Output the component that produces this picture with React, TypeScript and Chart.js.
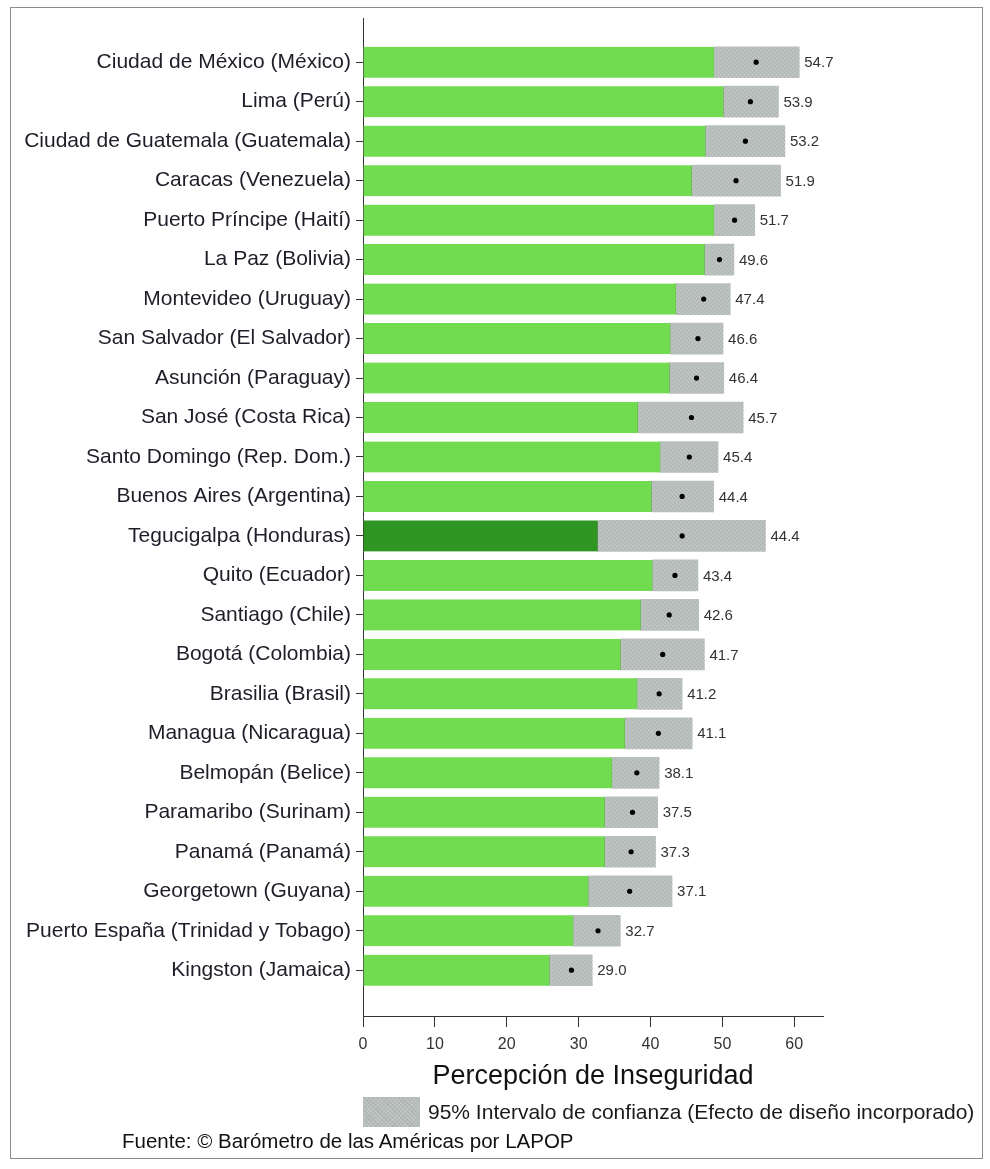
import React, { useEffect, useRef } from "react";
import { Chart, registerables } from "chart.js";

Chart.register(...registerables);

const FONT = '"Liberation Sans", Arial, Helvetica, sans-serif';

const cities = [
  "Ciudad de México (México)",
  "Lima (Perú)",
  "Ciudad de Guatemala (Guatemala)",
  "Caracas (Venezuela)",
  "Puerto Príncipe (Haití)",
  "La Paz (Bolivia)",
  "Montevideo (Uruguay)",
  "San Salvador (El Salvador)",
  "Asunción (Paraguay)",
  "San José (Costa Rica)",
  "Santo Domingo (Rep. Dom.)",
  "Buenos Aires (Argentina)",
  "Tegucigalpa (Honduras)",
  "Quito (Ecuador)",
  "Santiago (Chile)",
  "Bogotá (Colombia)",
  "Brasilia (Brasil)",
  "Managua (Nicaragua)",
  "Belmopán (Belice)",
  "Paramaribo (Surinam)",
  "Panamá (Panamá)",
  "Georgetown (Guyana)",
  "Puerto España (Trinidad y Tobago)",
  "Kingston (Jamaica)",
];

const means = [
  54.7, 53.9, 53.2, 51.9, 51.7, 49.6, 47.4, 46.6, 46.4, 45.7, 45.4, 44.4,
  44.4, 43.4, 42.6, 41.7, 41.2, 41.1, 38.1, 37.5, 37.3, 37.1, 32.7, 29.0,
];

const lowerCI = [
  48.9, 50.2, 47.7, 45.8, 48.9, 47.6, 43.6, 42.8, 42.7, 38.3, 41.4, 40.2,
  32.7, 40.3, 38.7, 35.9, 38.2, 36.5, 34.7, 33.7, 33.7, 31.4, 29.3, 26.0,
];

const upperCI = [
  60.7, 57.8, 58.7, 58.1, 54.5, 51.6, 51.1, 50.1, 50.2, 52.9, 49.4, 48.8,
  56.0, 46.6, 46.7, 47.5, 44.4, 45.8, 41.2, 41.0, 40.7, 43.0, 35.8, 31.9,
];

const highlightCity = "Tegucigalpa (Honduras)";
const xMin = 0;
const xMax = 64;
const xStep = 10;

const axisTitle = "Percepción de Inseguridad";
const legendText = "95% Intervalo de confianza (Efecto de diseño incorporado)";
const sourceText = "Fuente: © Barómetro de las Américas por LAPOP";

const GREEN = "#71dc50";
const GREEN_EDGE = "#4f9e3a";
const DARK_GREEN = "#2f9623";
const DARK_GREEN_EDGE = "#1f6e18";
const GRAY = "#b8bfbc";

function makePattern(): CanvasPattern | string {
  const c = document.createElement("canvas");
  c.width = 4;
  c.height = 4;
  const g = c.getContext("2d");
  if (!g) return GRAY;
  g.fillStyle = GRAY;
  g.fillRect(0, 0, 4, 4);
  g.fillStyle = "#a9b1ad";
  g.fillRect(0, 0, 1, 1);
  g.fillRect(2, 2, 1, 1);
  g.fillStyle = "#c5cbc8";
  g.fillRect(2, 0, 1, 1);
  g.fillRect(0, 2, 1, 1);
  const p = g.createPattern(c, "repeat");
  return p || GRAY;
}

const valueLabelPlugin = {
  id: "valueLabels",
  afterDatasetsDraw(chart: any) {
    const { ctx, scales } = chart;
    const x = scales.x;
    const y = scales.y;
    ctx.save();
    ctx.font = `15px ${FONT}`;
    ctx.fillStyle = "#333";
    ctx.textBaseline = "middle";
    ctx.textAlign = "left";
    means.forEach((m, i) => {
      ctx.fillText(m.toFixed(1), x.getPixelForValue(upperCI[i]) + 5, y.getPixelForValue(i) + 1);
    });
    ctx.restore();
  },
};

export default function App() {
  const canvasRef = useRef<HTMLCanvasElement | null>(null);

  useEffect(() => {
    const canvas = canvasRef.current;
    if (!canvas) return;
    const pattern = makePattern();
    const isHi = (c: string) => c === highlightCity;

    const chart = new Chart(canvas, {
      type: "bar",
      data: {
        datasets: [
          {
            type: "scatter",
            data: means.map((m, i) => ({ x: m, y: i })),
            pointRadius: 2.6,
            pointBackgroundColor: "#000",
            pointBorderWidth: 0,
            order: 0,
          } as any,
          {
            type: "bar",
            data: lowerCI.map((v, i) => ({ x: [v, upperCI[i]], y: i })),
            backgroundColor: pattern as any,
            borderWidth: 0,
            barThickness: 31,
            grouped: false,
            order: 1,
          } as any,
          {
            type: "bar",
            data: lowerCI.map((v, i) => ({ x: v, y: i })),
            backgroundColor: cities.map((c) => (isHi(c) ? DARK_GREEN : GREEN)),
            borderColor: cities.map((c) => (isHi(c) ? DARK_GREEN_EDGE : GREEN_EDGE)),
            borderWidth: { top: 0, bottom: 0, left: 0, right: 1 },
            borderSkipped: false,
            barThickness: 31,
            grouped: false,
            order: 2,
          } as any,
        ],
      },
      options: {
        indexAxis: "y",
        animation: false,
        responsive: false,
        maintainAspectRatio: false,
        layout: { padding: { left: 0, top: 18, right: 167, bottom: 63 } },
        plugins: {
          legend: { display: false },
          tooltip: { enabled: false },
        },
        scales: {
          x: {
            type: "linear",
            position: "bottom",
            min: xMin,
            max: xMax,
            offset: false,
            ticks: {
              stepSize: xStep,
              includeBounds: false,
              font: { size: 16, family: FONT },
              color: "#333",
              padding: 8,
              maxRotation: 0,
            },
            grid: {
              offset: false,
              drawOnChartArea: false,
              drawTicks: true,
              tickLength: 11,
              color: "#333",
            },
            border: { display: true, color: "#333", width: 1 },
            title: {
              display: true,
              text: axisTitle,
              font: { size: 27, family: FONT },
              color: "#111",
              padding: { top: 0, bottom: 13 },
            },
            afterFit: (s: any) => {
              s.height = 90;
            },
          },
          y: {
            type: "linear",
            position: "left",
            reverse: true,
            min: -1.12,
            max: 24.16,
            offset: false,
            afterBuildTicks: (s: any) => {
              s.ticks = cities.map((_, i) => ({ value: i }));
            },
            ticks: {
              autoSkip: false,
              callback: (v: any) => cities[Number(v)] ?? "",
              font: { size: 21, family: FONT },
              color: "#1e1e28",
              padding: 5,
            },
            grid: {
              offset: false,
              drawOnChartArea: false,
              drawTicks: true,
              tickLength: 7,
              color: "#333",
            },
            border: { display: true, color: "#333", width: 1 },
            afterFit: (s: any) => {
              s.width = 363;
            },
          },
        },
      } as any,
      plugins: [valueLabelPlugin],
    });

    return () => {
      chart.destroy();
    };
  }, []);

  const hatch =
    "repeating-linear-gradient(45deg, rgba(0,0,0,0.07) 0 1px, transparent 1px 3px), repeating-linear-gradient(-45deg, rgba(255,255,255,0.12) 0 1px, transparent 1px 3px)";

  return (
    <div
      style={{
        position: "absolute",
        left: 0,
        top: 0,
        width: 990,
        height: 1169,
        background: "#fff",
        overflow: "hidden",
        fontFamily: FONT,
      }}
    >
      <div
        style={{
          position: "absolute",
          left: 10,
          top: 7,
          width: 973,
          height: 1152,
          border: "1px solid #8c8c8c",
          boxSizing: "border-box",
        }}
      />
      <canvas
        ref={canvasRef}
        width={990}
        height={1169}
        style={{ position: "absolute", left: 0, top: 0, width: 990, height: 1169, display: "block" }}
      />
      <div
        style={{
          position: "absolute",
          left: 363,
          top: 1097,
          width: 57,
          height: 30,
          backgroundColor: GRAY,
          backgroundImage: hatch,
        }}
      />
      <div
        style={{
          position: "absolute",
          left: 428,
          top: 1099,
          fontSize: 21,
          lineHeight: "26px",
          color: "#1a1a1a",
          whiteSpace: "nowrap",
        }}
      >
        {legendText}
      </div>
      <div
        style={{
          position: "absolute",
          left: 122,
          top: 1128,
          fontSize: 20.5,
          lineHeight: "26px",
          color: "#111",
          whiteSpace: "nowrap",
        }}
      >
        {sourceText}
      </div>
    </div>
  );
}
